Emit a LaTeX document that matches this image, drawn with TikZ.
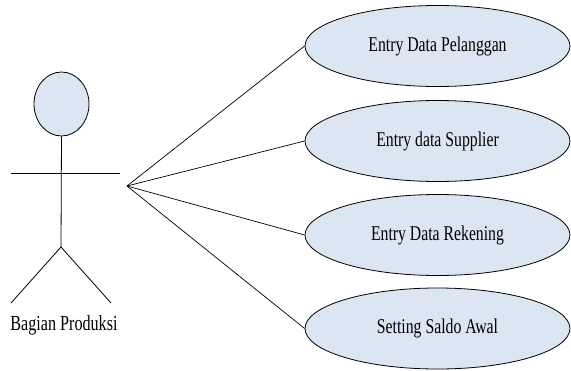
\documentclass[tikz,border=0pt]{standalone}
\usepackage{fontspec}
\setmainfont{Liberation Serif}[FakeStretch=0.75]
\usetikzlibrary{shapes.geometric}
\definecolor{ucfill}{HTML}{DCE6F2}
\tikzset{
  usecase/.style={ellipse, draw=black, line width=0.8pt, fill=ucfill, minimum width=265pt, minimum height=81pt, inner sep=0pt, font=\fontsize{21}{25}\selectfont},
  headshape/.style={ellipse, draw=black, line width=0.8pt, fill=ucfill, minimum width=55pt, minimum height=64pt, inner sep=0pt},
  stick/.style={draw=black, line width=0.8pt},
  assoc/.style={draw=black, line width=0.7pt}
}
\begin{document}
\begin{tikzpicture}[x=1pt,y=-1pt]
\useasboundingbox (0,0) rectangle (571,370);
% actor
\node[headshape] (head) at (61.5,104) {};
\coordinate (hip) at (61,247);
\coordinate (armL) at (11,173);
\coordinate (armR) at (120,173);
\coordinate (footL) at (11,303);
\coordinate (footR) at (111,303);
\draw[stick] (head.south) -- (hip);
\draw[stick] (armL) -- (armR);
\draw[stick] (footL) -- (hip) -- (footR);
\node[font=\fontsize{21.5}{25}\selectfont] (actor) at (64,325) {Bagian Produksi};
% use cases
\node[usecase] (u1) at (437.5,46) {Entry Data Pelanggan};
\node[usecase] (u2) at (437.5,141) {Entry data Supplier};
\node[usecase] (u3) at (437.5,235) {Entry Data Rekening};
\node[usecase] (u4) at (437.5,328.5) {Setting Saldo Awal};
% associations
\coordinate (hub) at (127,186);
\draw[assoc] (hub) -- (u1.west);
\draw[assoc] (hub) -- (u2.west);
\draw[assoc] (hub) -- (u3.west);
\draw[assoc] (hub) -- (u4.west);
\end{tikzpicture}
\end{document}
